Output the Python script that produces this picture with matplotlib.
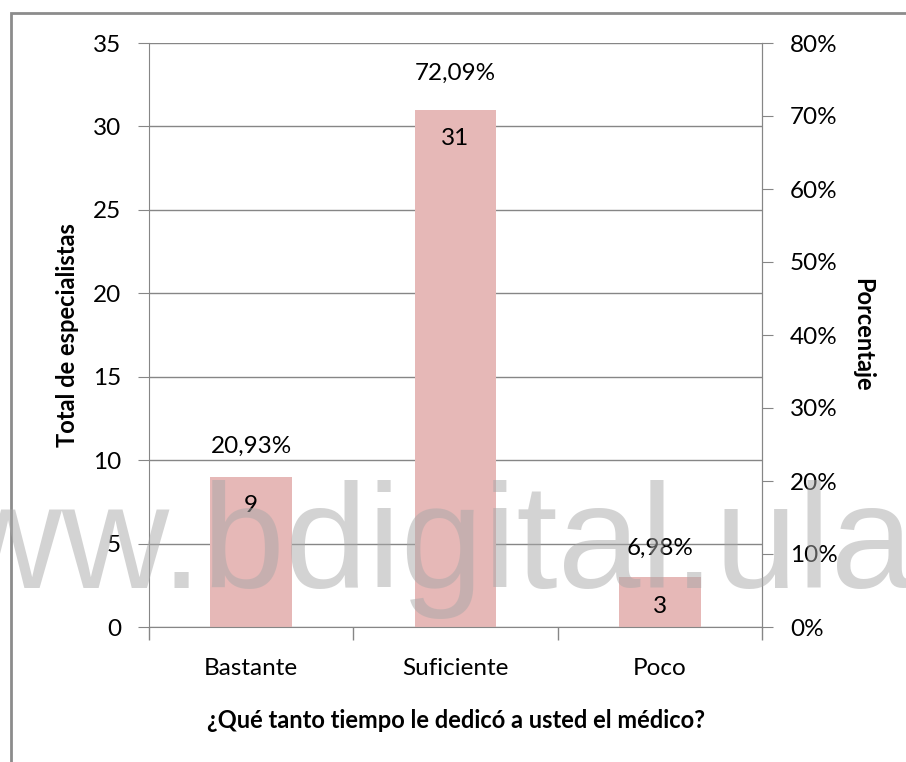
import numpy as np
import matplotlib.pyplot as plt
from matplotlib.patches import Rectangle
from matplotlib.ticker import FixedLocator, PercentFormatter

plt.rcParams["font.family"] = ["Lato", "DejaVu Sans"]

# datos
categorias = ["Bastante", "Suficiente", "Poco"]
totales = [9, 31, 3]
porcentajes = [20.93, 72.09, 6.98]

bar_color = "#E6B8B7"
grid_color = "#868686"
fs = 17.5

fig = plt.figure(figsize=(9.06, 7.62), dpi=100)
ax = fig.add_axes([149 / 906, 1 - 627 / 762, (762 - 149) / 906, (627 - 43) / 762])

x = np.arange(len(categorias))
bars = ax.bar(x, totales, width=0.4, color=bar_color, zorder=2)

ax.set_xlim(-0.5, 2.5)
ax.set_ylim(0, 35)
ax.set_yticks(np.arange(0, 36, 5))
ax.yaxis.grid(True, color=grid_color, linewidth=1, zorder=1)
ax.set_axisbelow(True)

ax.set_xticks(x)
ax.set_xticklabels(categorias, fontsize=fs)
ax.xaxis.set_minor_locator(FixedLocator([-0.5, 0.5, 1.5, 2.5]))
ax.tick_params(axis="x", which="major", length=0, pad=22)
ax.tick_params(axis="x", which="minor", length=9, color=grid_color, width=1)
ax.tick_params(axis="y", length=8, color=grid_color, labelsize=fs, pad=12)

ax.spines["top"].set_visible(False)
for s in ["left", "bottom", "right"]:
    ax.spines[s].set_color(grid_color)

# eje secundario de porcentajes
ax2 = ax.twinx()
ax2.set_ylim(0, 80)
ax2.set_yticks(np.arange(0, 81, 10))
ax2.yaxis.set_major_formatter(PercentFormatter(decimals=0))
ax2.tick_params(axis="y", length=8, color=grid_color, labelsize=fs, pad=12)
for s in ["top", "left", "bottom"]:
    ax2.spines[s].set_visible(False)
ax2.spines["right"].set_color(grid_color)

# etiquetas de datos
for xi, v, p in zip(x, totales, porcentajes):
    ax.annotate(str(v), (xi, v), xytext=(0, -21), textcoords="offset points",
                ha="center", va="center", fontsize=fs, zorder=4)
    ax2.annotate(f"{p:.2f}%".replace(".", ","), (xi, p), xytext=(0, 20),
                 textcoords="offset points", ha="center", va="center", fontsize=fs)

ax.set_ylabel("Total de especialistas", fontsize=17, fontweight="bold", labelpad=10)
ax2.set_ylabel("Porcentaje", fontsize=17, fontweight="bold", rotation=-90, labelpad=26)
ax.set_xlabel("¿Qué tanto tiempo le dedicó a usted el médico?", fontsize=17,
              fontweight="bold", labelpad=22)

# marco del gráfico
fig.patches.append(Rectangle((11 / 906, -0.1), 1.2, 1 - 13 / 762 + 0.1,
                             transform=fig.transFigure, fill=False,
                             edgecolor="#8c8c8c", linewidth=2))

# marca de agua
fig.text(1.008, 1 - 588 / 762, "www.bdigital.ula", fontsize=107,
         family="Liberation Sans", color="#a8a8a8", alpha=0.5,
         ha="right", va="baseline", zorder=10)

fig.savefig("out.png", dpi=100)
